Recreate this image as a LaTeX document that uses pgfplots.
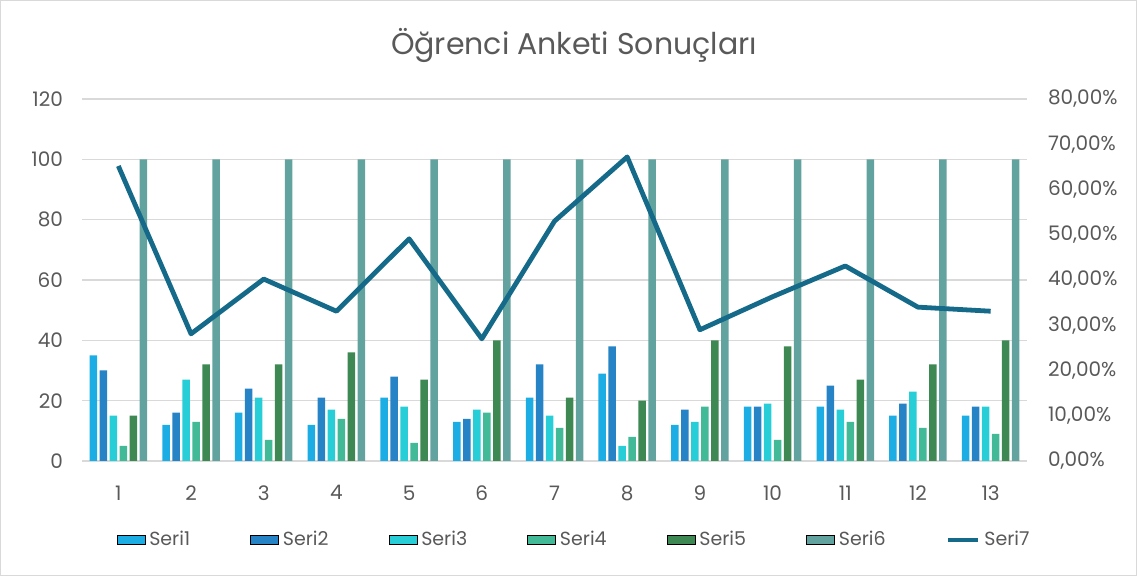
\documentclass[border=0pt]{standalone}
\usepackage{fontspec}
\setmainfont{Poppins}
\usepackage{pgfplots}
\pgfplotsset{compat=1.18}
\definecolor{c1}{HTML}{1CADE4}
\definecolor{c2}{HTML}{2683C6}
\definecolor{c3}{HTML}{27CED7}
\definecolor{c4}{HTML}{42BA97}
\definecolor{c5}{HTML}{3E8853}
\definecolor{c6}{HTML}{62A39F}
\definecolor{c7}{HTML}{156A8A}
\definecolor{txt}{HTML}{595959}
\definecolor{gridc}{HTML}{D9D9D9}
\pgfplotsset{
  legendbar/.style={legend image code/.code={\fill[##1] (0pt,-2.25pt) rectangle (14pt,2.25pt);}},
  legendline/.style={legend image code/.code={\draw[##1] (0pt,0pt) -- (15pt,0pt);}},
  common/.style={
    at={(41pt,57.5pt)}, anchor=south west, scale only axis,
    width=472.5pt, height=181pt,
    xmin=0.5, xmax=13.5,
    axis line style={draw=none}, tick style={draw=none},
    ticklabel style={font=\fontsize{10}{12}\selectfont, text=txt},
    /pgf/number format/assume math mode=true,
  }
}
\begin{document}
\begin{tikzpicture}
\draw[gridc, line width=0.5pt] (0.25pt,0.25pt) rectangle (568.25pt,287.75pt);
\node[text=txt, font=\fontsize{15}{18}\selectfont] at (287pt,265.5pt) {Öğrenci Anketi Sonuçları};
\begin{axis}[common,
  ymin=0, ymax=120, ytick={0,20,...,120}, xtick={1,...,13},
  ybar=1.25pt, bar width=3.75pt,
  ymajorgrids, grid style={line width=0.75pt, gridc},
  yticklabel style={xshift=-6pt},
  xticklabel style={yshift=-4.5pt},
]
\addplot[fill=c1, draw=none] coordinates {(1,35)(2,12)(3,16)(4,12)(5,21)(6,13)(7,21)(8,29)(9,12)(10,18)(11,18)(12,15)(13,15)};
\addplot[fill=c2, draw=none] coordinates {(1,30)(2,16)(3,24)(4,21)(5,28)(6,14)(7,32)(8,38)(9,17)(10,18)(11,25)(12,19)(13,18)};
\addplot[fill=c3, draw=none] coordinates {(1,15)(2,27)(3,21)(4,17)(5,18)(6,17)(7,15)(8,5)(9,13)(10,19)(11,17)(12,23)(13,18)};
\addplot[fill=c4, draw=none] coordinates {(1,5)(2,13)(3,7)(4,14)(5,6)(6,16)(7,11)(8,8)(9,18)(10,7)(11,13)(12,11)(13,9)};
\addplot[fill=c5, draw=none] coordinates {(1,15)(2,32)(3,32)(4,36)(5,27)(6,40)(7,21)(8,20)(9,40)(10,38)(11,27)(12,32)(13,40)};
\addplot[fill=c6, draw=none] coordinates {(1,100)(2,100)(3,100)(4,100)(5,100)(6,100)(7,100)(8,100)(9,100)(10,100)(11,100)(12,100)(13,100)};
\end{axis}
\begin{axis}[common,
  axis y line*=right, hide x axis,
  ymin=0, ymax=80, ytick={0,10,...,80},
  yticklabel={\pgfmathprintnumber[fixed,fixed zerofill,precision=2,use comma]{\tick}\%},
  yticklabel style={xshift=7pt},
  legend columns=7,
  legend style={at={(0.5217,-0.218)}, anchor=center, draw=none, fill=none,
    font=\fontsize{9.5}{11}\selectfont, text=txt,
    /tikz/every even column/.append style={column sep=28pt}},
]
\addlegendimage{legendbar, fill=c1}\addlegendentry{Seri1}
\addlegendimage{legendbar, fill=c2}\addlegendentry{Seri2}
\addlegendimage{legendbar, fill=c3}\addlegendentry{Seri3}
\addlegendimage{legendbar, fill=c4}\addlegendentry{Seri4}
\addlegendimage{legendbar, fill=c5}\addlegendentry{Seri5}
\addlegendimage{legendbar, fill=c6}\addlegendentry{Seri6}
\addplot[c7, line width=2.4pt, line join=round, legendline] coordinates {(1,65.2)(2,28.1)(3,40.2)(4,33.1)(5,49.1)(6,27.0)(7,53.0)(8,67.2)(9,29.0)(10,36.3)(11,43.1)(12,34.0)(13,33.1)};
\addlegendentry{Seri7}
\end{axis}
\end{tikzpicture}
\end{document}
